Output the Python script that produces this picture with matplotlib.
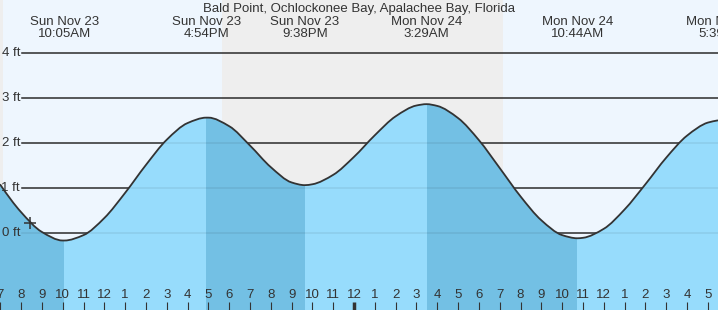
import numpy as np
import matplotlib
matplotlib.use("Agg")
import matplotlib.pyplot as plt
import matplotlib.transforms as mtransforms
from matplotlib.path import Path
from matplotlib.patches import PathPatch

# ===========================
# CONFIGURATION SECTION
# ===========================

TITLE = "Bald Point, Ochlockonee Bay, Apalachee Bay, Florida"

# Hours counted from Sun Nov 23 00:00, tide heights in ft
HOURS = list(range(7, 42))
HOURLY_HEIGHTS = [
    1.08, 0.47, 0.03, -0.16, -0.04, 0.34, 0.90, 1.52, 2.08, 2.45,
    2.57, 2.38, 1.95, 1.47, 1.13, 1.09, 1.30, 1.70, 2.18, 2.60,
    2.84, 2.83, 2.56, 2.07, 1.45, 0.82, 0.29, -0.04, -0.10, 0.10,
    0.53, 1.09, 1.68, 2.17, 2.46,
]

# High / low tides inside the window
EXTREME_TIMES = [10.083, 16.9, 21.633, 27.483, 34.733]
EXTREME_HEIGHTS = [-0.16, 2.57, 1.07, 2.87, -0.11]

# Heights at the left and right edge of the chart
EDGE_TIMES = [6.986, 41.49]
EDGE_HEIGHTS = [1.09, 2.51]

# Top labels (one per high / low)
LABEL_TIMES = [10.083, 16.9, 21.633, 27.483, 34.733, 41.65]
LABEL_DAYS = ["Sun Nov 23", "Sun Nov 23", "Sun Nov 23", "Mon Nov 24", "Mon Nov 24", "Mon Nov 24"]
LABEL_CLOCK = ["10:05AM", "4:54PM", "9:38PM", "3:29AM", "10:44AM", "5:39PM"]

# Falling tide periods (darker water)
FALLING = [(6.986, 10.083), (16.9, 21.633), (27.483, 34.733)]

# Night (grey background)
NIGHTS = [(6.986, 7.13), (17.64, 31.16)]

# Current time marker
NOW_TIME = 8.43
NOW_HEIGHT = 0.24

FT_TICKS = [0, 1, 2, 3, 4]

# Colors
DAY_COLOR = "#eef6fe"
NIGHT_COLOR = "#eeeeee"
WATER_COLOR = "#97dcfc"
WATER_DARK = "#73c0e4"
INK = "#333333"

plt.rcParams["font.family"] = ["Liberation Sans", "DejaVu Sans"]

# ===========================
# HELPER FUNCTIONS
# ===========================

def smooth_path(x, y):
    """Bezier path through the points, monotone (pchip style) tangents."""
    dx = np.diff(x)
    d = np.diff(y) / dx
    m = np.zeros_like(y)
    for k in range(1, len(x) - 1):
        if d[k - 1] * d[k] > 0:
            w1 = 2 * dx[k] + dx[k - 1]
            w2 = dx[k] + 2 * dx[k - 1]
            m[k] = (w1 + w2) / (w1 / d[k - 1] + w2 / d[k])
    m[0], m[-1] = d[0], d[-1]

    verts = [(x[0], y[0])]
    codes = [Path.MOVETO]
    for k in range(len(x) - 1):
        s = dx[k] / 3
        verts += [(x[k] + s, y[k] + m[k] * s),
                  (x[k + 1] - s, y[k + 1] - m[k + 1] * s),
                  (x[k + 1], y[k + 1])]
        codes += [Path.CURVE4] * 3
    return verts, codes

# ===========================
# BUILD CURVE
# ===========================

t = np.array(HOURS + EXTREME_TIMES + EDGE_TIMES, dtype=float)
h = np.array(HOURLY_HEIGHTS + EXTREME_HEIGHTS + EDGE_HEIGHTS, dtype=float)
order = np.argsort(t)
t, h = t[order], h[order]

# ===========================
# PLOT
# ===========================

fig = plt.figure(figsize=(7.18, 3.10), dpi=100)
ax = fig.add_axes([0, 0, 1, 1])
ax.set_xlim(6.986, 41.489)
ax.set_ylim(-1.704, 5.184)
ax.set_facecolor(DAY_COLOR)
for s in ax.spines.values():
    s.set_visible(False)

for a, b in NIGHTS:
    ax.axvspan(a, b, color=NIGHT_COLOR, lw=0, zorder=0)

# grid lines (dark above water, faint inside water)
grid_start = 22 / 718
for ft in FT_TICKS:
    ax.axhline(ft, xmin=grid_start, color=INK, lw=1.1, zorder=1)

ybot = ax.get_ylim()[0]
verts, codes = smooth_path(t, h)
water_verts = verts + [(t[-1], ybot), (t[0], ybot), (t[0], h[0])]
water_codes = codes + [Path.LINETO, Path.LINETO, Path.CLOSEPOLY]
water = PathPatch(Path(water_verts, water_codes), facecolor=WATER_COLOR, lw=0, zorder=2)
ax.add_patch(water)
for a, b in FALLING:
    band = ax.axvspan(a, b, color=WATER_DARK, lw=0, zorder=2.1)
    band.set_clip_path(water)

for ft in FT_TICKS:
    ax.axhline(ft, xmin=grid_start, color="black", alpha=0.08, lw=1.1, zorder=3)

ax.add_patch(PathPatch(Path(verts, codes), fill=False, edgecolor=INK, lw=1.3, zorder=4))
ax.plot([NOW_TIME], [NOW_HEIGHT], marker="+", ms=8, mew=1.1, color=INK, zorder=5)

# y labels
trans = mtransforms.blended_transform_factory(ax.transAxes, ax.transData)
for ft in FT_TICKS:
    ax.text(20 / 718, ft, f"{ft} ft", transform=trans, ha="right", va="center",
            fontsize=9.5, color=INK, zorder=6)

# title and high / low labels
ax.text(0.5, 0.972, TITLE, transform=ax.transAxes, ha="center", va="center",
        fontsize=9.5, color=INK)
tx = mtransforms.blended_transform_factory(ax.transData, ax.transAxes)
for lt, day, clk in zip(LABEL_TIMES, LABEL_DAYS, LABEL_CLOCK):
    ax.text(lt, 0.930, day, transform=tx, ha="center", va="center", fontsize=9.5, color=INK)
    ax.text(lt, 0.891, clk, transform=tx, ha="center", va="center", fontsize=9.5, color=INK)

# hour ticks along the bottom
ax.set_xticks(HOURS)
ax.set_xticklabels([str((hr - 1) % 12 + 1) for hr in HOURS])
ax.set_yticks([])
ax.tick_params(axis="x", direction="in", length=6, width=0.8, color=INK,
               labelcolor=INK, labelsize=9.5, pad=-14.8)
ax.xaxis.set_zorder(10)
for hr, tick in zip(HOURS, ax.xaxis.get_major_ticks()):
    if hr % 24 == 0:
        tick.tick1line.set_markeredgewidth(2.5)

fig.savefig("out.png", dpi=100)
